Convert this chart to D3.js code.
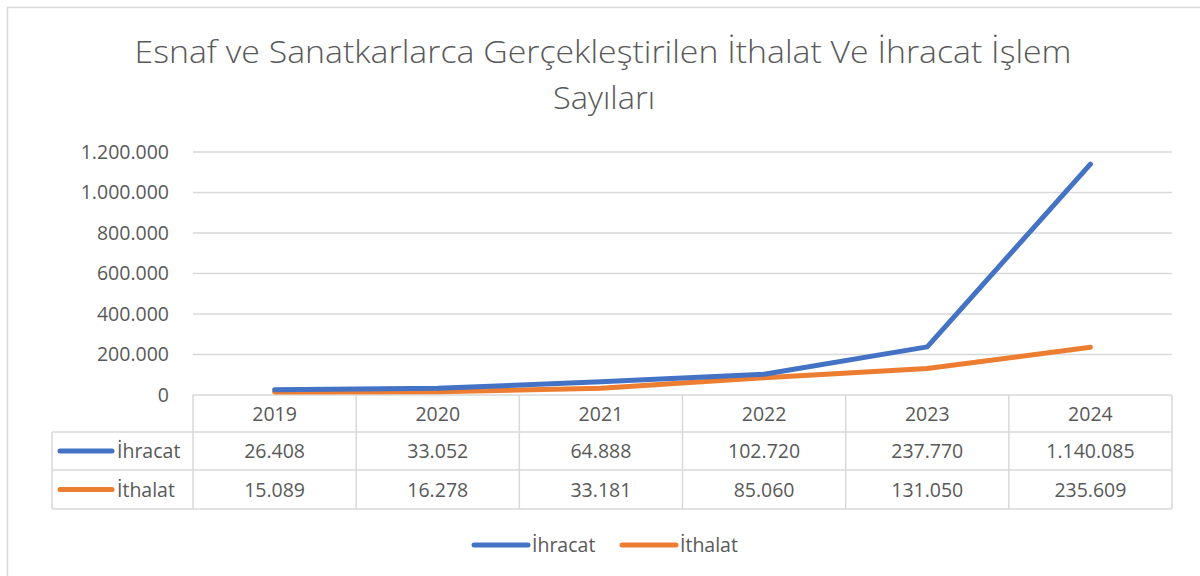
<!DOCTYPE html>
<html lang="tr">
<head>
<meta charset="utf-8">
<title>Esnaf ve Sanatkarlarca İthalat İhracat</title>
<script src="https://d3js.org/d3.v7.min.js"></script>
<style>
  body { margin: 0; background: #fff; }
  text { font-family: "Open Sans", "Noto Sans", sans-serif; fill: #595959; }
</style>
</head>
<body>
<svg id="chart" width="1200" height="576"></svg>
<script>
// data
const years = ["2019", "2020", "2021", "2022", "2023", "2024"];
const ihracat = [26408, 33052, 64888, 102720, 237770, 1140085];
const ithalat = [15089, 16278, 33181, 85060, 131050, 235609];
const seriesNames = ["İhracat", "İthalat"];
const colors = ["#4472C4", "#ED7D31"];
const yTicks = [0, 200000, 400000, 600000, 800000, 1000000, 1200000];

const trLocale = d3.formatLocale({decimal: ",", thousands: ".", grouping: [3], currency: ["", " ₺"]});
const fmt = trLocale.format(",d");

const svg = d3.select("#chart");
const series = [ihracat, ithalat];
const fs = 19.5;

// outer frame
svg.append("rect")
  .attr("x", 7.5).attr("y", 7.5)
  .attr("width", 1230).attr("height", 620)
  .attr("fill", "none").attr("stroke", "#d9d9d9").attr("stroke-width", 1.5);

// title
const title = svg.append("text")
  .attr("text-anchor", "middle")
  .attr("font-size", 32)
  .attr("font-weight", 300);
title.append("tspan").attr("x", 603).attr("y", 63)
  .attr("textLength", 937).attr("lengthAdjust", "spacingAndGlyphs")
  .text("Esnaf ve Sanatkarlarca Gerçekleştirilen İthalat Ve İhracat İşlem");
title.append("tspan").attr("x", 604).attr("y", 109)
  .attr("textLength", 102).attr("lengthAdjust", "spacingAndGlyphs")
  .text("Sayıları");

const plotL = 193, plotR = 1172, plotT = 152, plotB = 395;

const x = d3.scaleBand().domain(years).range([plotL, plotR]);
const y = d3.scaleLinear().domain([0, 1200000]).range([plotB, plotT]);

// gridlines
svg.append("g").selectAll("line")
  .data(yTicks.slice(1))
  .join("line")
  .attr("x1", plotL).attr("x2", plotR)
  .attr("y1", d => y(d)).attr("y2", d => y(d))
  .attr("stroke", "#d9d9d9").attr("stroke-width", 1.5);

// y axis labels
const yAxis = svg.append("g")
  .attr("transform", "translate(" + (plotL - 10) + ",0)")
  .call(d3.axisLeft(y).tickValues(yTicks).tickFormat(fmt).tickSize(0).tickPadding(14));
yAxis.select(".domain").remove();
yAxis.selectAll("text")
  .attr("font-size", fs)
  .attr("fill", "#595959")
  .style("font-family", "'Open Sans', sans-serif");

// data table
const rowTop = 395, rowH = [37, 38, 39];
const rowY = [rowTop, rowTop + rowH[0], rowTop + rowH[0] + rowH[1], rowTop + rowH[0] + rowH[1] + rowH[2]];
const tableLeft = 52;
const grid = svg.append("g").attr("stroke", "#d9d9d9").attr("stroke-width", 1.5).attr("fill", "none");
// horizontal lines
grid.append("line").attr("x1", plotL).attr("x2", plotR).attr("y1", rowY[0]).attr("y2", rowY[0]);
[1, 2, 3].forEach(i => {
  grid.append("line").attr("x1", tableLeft).attr("x2", plotR).attr("y1", rowY[i]).attr("y2", rowY[i]);
});
// vertical lines
years.forEach(yr => {
  grid.append("line").attr("x1", x(yr)).attr("x2", x(yr)).attr("y1", rowY[0]).attr("y2", rowY[3]);
});
grid.append("line").attr("x1", plotR).attr("x2", plotR).attr("y1", rowY[0]).attr("y2", rowY[3]);
grid.append("line").attr("x1", tableLeft).attr("x2", tableLeft).attr("y1", rowY[1]).attr("y2", rowY[3]);

// year header
svg.append("g").selectAll("text")
  .data(years)
  .join("text")
  .attr("x", d => x(d) + x.bandwidth() / 2)
  .attr("y", (rowY[0] + rowY[1]) / 2 + 7)
  .attr("text-anchor", "middle")
  .attr("font-size", fs)
  .text(d => d);

// value rows
series.forEach((vals, si) => {
  const cy = (rowY[si + 1] + rowY[si + 2]) / 2;
  svg.append("g").selectAll("text")
    .data(vals)
    .join("text")
    .attr("x", (d, i) => x(years[i]) + x.bandwidth() / 2)
    .attr("y", cy + 7)
    .attr("text-anchor", "middle")
    .attr("font-size", fs)
    .text(d => fmt(d));
  svg.append("line")
    .attr("x1", 60).attr("x2", 112).attr("y1", cy).attr("y2", cy)
    .attr("stroke", colors[si]).attr("stroke-width", 5).attr("stroke-linecap", "round");
  svg.append("text")
    .attr("x", 117).attr("y", cy + 7)
    .attr("font-size", fs)
    .text(seriesNames[si]);
});

// lines
const line = d3.line()
  .x((d, i) => x(years[i]) + x.bandwidth() / 2)
  .y(d => y(d));
series.slice().reverse().forEach((vals, k) => {
  const si = series.length - 1 - k;
  svg.append("path")
    .datum(vals)
    .attr("d", line)
    .attr("fill", "none")
    .attr("stroke", colors[si])
    .attr("stroke-width", 5)
    .attr("stroke-linejoin", "round")
    .attr("stroke-linecap", "round");
});

// legend
const legend = svg.append("g");
const legX = [474, 622];
seriesNames.forEach((name, i) => {
  legend.append("line")
    .attr("x1", legX[i]).attr("x2", legX[i] + 54).attr("y1", 545).attr("y2", 545)
    .attr("stroke", colors[i]).attr("stroke-width", 5).attr("stroke-linecap", "round");
  legend.append("text")
    .attr("x", legX[i] + 58).attr("y", 552)
    .attr("font-size", fs)
    .text(name);
});
</script>
</body>
</html>
